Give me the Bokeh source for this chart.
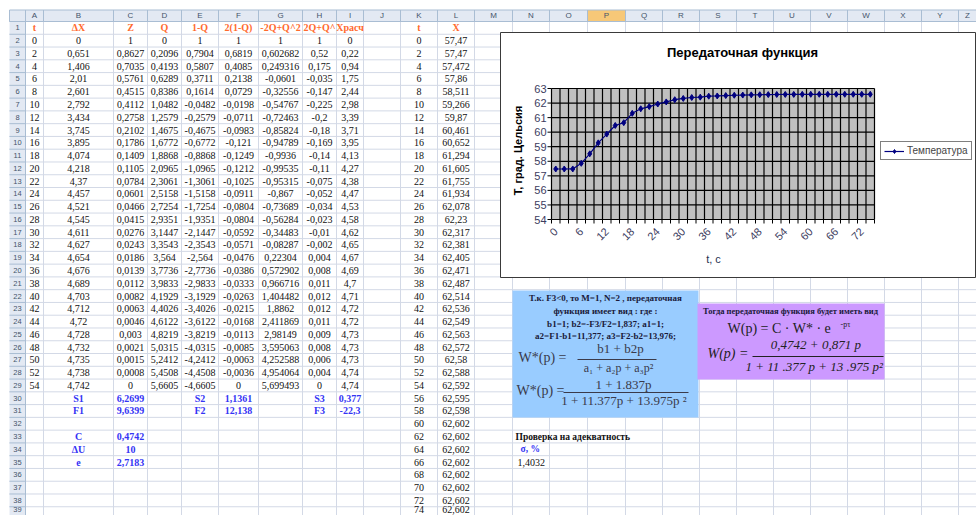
import math
from bokeh.plotting import figure
from bokeh.models import Range1d, Legend, LegendItem
from bokeh.core.properties import value
from bokeh.embed import file_html
from bokeh.resources import INLINE

# ---------------- data ----------------
t_sec = [0, 2, 4, 6, 8, 10, 12, 14, 16, 18, 20, 22, 24, 26, 28, 30, 32, 34, 36,
         38, 40, 42, 44, 46, 48, 50, 52, 54, 56, 58, 60, 62, 64, 66, 68, 70, 72, 74]
temperature = [57.47, 57.47, 57.472, 57.86, 58.511, 59.266, 59.87, 60.461, 60.652, 61.294,
               61.605, 61.755, 61.934, 62.078, 62.23, 62.317, 62.381, 62.405, 62.471, 62.487,
               62.514, 62.536, 62.549, 62.563, 62.572, 62.58, 62.588, 62.592, 62.595, 62.598,
               62.602, 62.602, 62.602, 62.602, 62.602, 62.602, 62.602, 62.602]
y_ticks = [54, 55, 56, 57, 58, 59, 60, 61, 62, 63]

delta_x = [0, 0.651, 1.406, 2.01, 2.601, 2.792, 3.434, 3.745, 3.895, 4.074, 4.218, 4.37, 4.457, 4.521,
           4.545, 4.611, 4.627, 4.654, 4.676, 4.689, 4.703, 4.712, 4.72, 4.728, 4.732, 4.735, 4.738, 4.742]
z_col = [1, 0.8627, 0.7035, 0.5761, 0.4515, 0.4112, 0.2758, 0.2102, 0.1786, 0.1409, 0.1105, 0.0784,
         0.0601, 0.0466, 0.0415, 0.0276, 0.0243, 0.0186, 0.0139, 0.0112, 0.0082, 0.0063, 0.0046,
         0.003, 0.0021, 0.0015, 0.0008, 0]
q_col = [0, 0.2096, 0.4193, 0.6289, 0.8386, 1.0482, 1.2579, 1.4675, 1.6772, 1.8868, 2.0965, 2.3061,
         2.5158, 2.7254, 2.9351, 3.1447, 3.3543, 3.564, 3.7736, 3.9833, 4.1929, 4.4026, 4.6122,
         4.8219, 5.0315, 5.2412, 5.4508, 5.6605]
one_minus_q = [1, 0.7904, 0.5807, 0.3711, 0.1614, -0.0482, -0.2579, -0.4675, -0.6772, -0.8868,
               -1.0965, -1.3061, -1.5158, -1.7254, -1.9351, -2.1447, -2.3543, -2.564, -2.7736,
               -2.9833, -3.1929, -3.4026, -3.6122, -3.8219, -4.0315, -4.2412, -4.4508, -4.6605]
f_col = [1, 0.6819, 0.4085, 0.2138, 0.0729, -0.0198, -0.0711, -0.0983, -0.121, -0.1249, -0.1212,
         -0.1025, -0.0911, -0.0804, -0.0804, -0.0592, -0.0571, -0.0476, -0.0386, -0.0333, -0.0263,
         -0.0215, -0.0168, -0.0113, -0.0085, -0.0063, -0.0036, 0]
g_col = [1, 0.602682, 0.249316, -0.0601, -0.32556, -0.54767, -0.72463, -0.85824, -0.94789, -0.9936,
         -0.99535, -0.95315, -0.867, -0.73689, -0.56284, -0.34483, -0.08287, 0.22304, 0.572902,
         0.966716, 1.404482, 1.8862, 2.411869, 2.98149, 3.595063, 4.252588, 4.954064, 5.699493]
h_col = [1, 0.52, 0.175, -0.035, -0.147, -0.225, -0.2, -0.18, -0.169, -0.14, -0.11, -0.075, -0.052,
         -0.034, -0.023, -0.01, -0.002, 0.004, 0.008, 0.011, 0.012, 0.012, 0.011, 0.009, 0.008,
         0.006, 0.004, 0]
x_calc = [0, 0.22, 0.94, 1.75, 2.44, 2.98, 3.39, 3.71, 3.95, 4.13, 4.27, 4.38, 4.47, 4.53, 4.58,
          4.62, 4.65, 4.67, 4.69, 4.7, 4.71, 4.72, 4.72, 4.73, 4.73, 4.73, 4.74, 4.74]
sheet_headers = ["t", "ΔX", "Z", "Q", "1-Q", "2(1-Q)", "-2Q+Q^2", "2Q+Q^", "Xрасч"]
col_letters = ["A", "B", "C", "D", "E", "F", "G", "H", "I", "J", "K", "L", "M",
               "N", "O", "P", "Q", "R", "S", "T", "U", "V", "W", "X", "Y", "Z"]
sums_labels_30 = ["S1", "S2", "S3"]
sums_values_30 = ["6,2699", "1,1361", "0,377"]
sums_labels_31 = ["F1", "F2", "F3"]
sums_values_31 = ["9,6399", "12,138", "-22,3"]
const_labels = ["C", "ΔU", "e"]
const_values = ["0,4742", "10", "2,7183"]


def fmt(v):
    s = repr(float(v))
    if s.endswith(".0"):
        s = s[:-2]
    return s.replace(".", ",")


# ---------------- canvas ----------------
W, H = 976, 515
X0, Y0 = 0, 0
BOTTOM = Y0 + H
RIGHT = X0 + W
p = figure(width=W, height=H, x_range=Range1d(X0, RIGHT), y_range=Range1d(BOTTOM, Y0),
           x_axis_location=None, y_axis_location=None, toolbar_location=None,
           output_backend="svg", min_border=0, outline_line_color=None)
p.grid.visible = False
p.background_fill_color = "white"
p.border_fill_color = "white"

SERIF = value("Liberation Serif")
SANS = value("Liberation Sans")

col_edges = [9, 25, 43, 113, 147, 181, 218, 258, 302, 336, 363, 400, 437, 474, 512, 549,
             587, 625, 662, 699, 736, 773, 810, 847, 884, 921, 958, 995]
HDR_TOP, ROW_TOP, ROW_H = 9.5, 21.0, 12.77
N_ROWS = 40
row_edges = [ROW_TOP + ROW_H * k for k in range(N_ROWS + 1)]


def rc(r):
    y = ROW_TOP + ROW_H * (r - 0.5)
    return min(y, BOTTOM - 6)


def cc(c):
    return (min(col_edges[c], RIGHT) + min(col_edges[c + 1], RIGHT)) / 2


GRID = "#d3d9e6"
HDR_FILL = "#e3e9f3"
HDR_LINE = "#a9bdd3"

# cell grid
p.segment(x0=col_edges[1:], x1=col_edges[1:], y0=ROW_TOP, y1=BOTTOM, line_color=GRID, line_width=1)
p.segment(x0=col_edges[0], x1=col_edges[-1], y0=row_edges, y1=row_edges, line_color=GRID, line_width=1)

# header row & row-number column
p.quad(left=col_edges[0], right=col_edges[-1], top=HDR_TOP, bottom=ROW_TOP, fill_color=HDR_FILL, line_color=None)
p.quad(left=col_edges[16], right=col_edges[17], top=HDR_TOP, bottom=ROW_TOP,
       fill_color="#f7c878", line_color=None)
p.quad(left=col_edges[0], right=col_edges[1], top=ROW_TOP, bottom=BOTTOM, fill_color=HDR_FILL, line_color=None)
p.segment(x0=col_edges, x1=col_edges, y0=HDR_TOP, y1=ROW_TOP, line_color=HDR_LINE)
p.segment(x0=col_edges[0], x1=col_edges[1], y0=row_edges, y1=row_edges, line_color=HDR_LINE)
p.segment(x0=[col_edges[0]], x1=[col_edges[-1]], y0=[ROW_TOP], y1=[ROW_TOP], line_color=HDR_LINE)
p.segment(x0=[col_edges[0]], x1=[col_edges[-1]], y0=[HDR_TOP], y1=[HDR_TOP], line_color=HDR_LINE)
p.segment(x0=[col_edges[1]], x1=[col_edges[1]], y0=[HDR_TOP], y1=[BOTTOM], line_color=HDR_LINE)

p.text(x=[cc(i + 1) for i in range(len(col_letters))], y=(HDR_TOP + ROW_TOP) / 2, text=col_letters,
       text_font=SANS, text_font_size="8px", text_color="#44546a", text_align="center", text_baseline="middle")
p.text(x=(col_edges[0] + col_edges[1]) / 2, y=[rc(r) for r in range(1, N_ROWS)],
       text=[str(r) for r in range(1, N_ROWS)], text_font=SANS, text_font_size="7.5px",
       text_color="#44546a", text_align="center", text_baseline="middle")

# header cells (row 1)
p.text(x=[cc(i + 1) for i in range(len(sheet_headers))] + [cc(11), cc(12)], y=rc(1),
       text=sheet_headers + ["t", "X"], text_font=SERIF, text_font_size="10px", text_font_style="bold",
       text_color="#ff6a2e", text_align="center", text_baseline="middle")

# data cells
cx_list, cy_list, ct_list = [], [], []
sheet_cols = [t_sec[:len(delta_x)], delta_x, z_col, q_col, one_minus_q, f_col, g_col, h_col, x_calc]
for ci, col in enumerate(sheet_cols):
    for ri, v in enumerate(col):
        cx_list.append(cc(ci + 1))
        cy_list.append(rc(ri + 2))
        ct_list.append(fmt(v))
for ri, (tv, xv) in enumerate(zip(t_sec, temperature)):
    cx_list += [cc(11), cc(12)]
    cy_list += [rc(ri + 2), rc(ri + 2)]
    ct_list += [fmt(tv), fmt(xv)]
p.text(x=cx_list, y=cy_list, text=ct_list, text_font=SERIF, text_font_size="10px",
       text_color="#111111", text_align="center", text_baseline="middle")

# blue summary cells
bx, by, bt = [], [], []
for k, (lab, val) in enumerate(zip(sums_labels_30, sums_values_30)):
    bx += [cc(2 + 3 * k), cc(3 + 3 * k)]
    by += [rc(30), rc(30)]
    bt += [lab, val]
for k, (lab, val) in enumerate(zip(sums_labels_31, sums_values_31)):
    bx += [cc(2 + 3 * k), cc(3 + 3 * k)]
    by += [rc(31), rc(31)]
    bt += [lab, val]
for k, (lab, val) in enumerate(zip(const_labels, const_values)):
    bx += [cc(2), cc(3)]
    by += [rc(33 + k), rc(33 + k)]
    bt += [lab, val]
p.text(x=bx, y=by, text=bt, text_font=SERIF, text_font_size="10px", text_font_style="bold",
       text_color="#3434f5", text_align="center", text_baseline="middle")

# ---------------- text boxes ----------------
p.quad(left=512, right=698, top=290, bottom=417, fill_color="#99ccff", line_color=None)
p.quad(left=697, right=884, top=303, bottom=379, fill_color="#cc99ff", line_color=None)

box_lines = ["Т.к. F3<0, то M=1, N=2 , передаточная", "функция имеет вид : где :",
             "b1=1; b2=-F3/F2=1,837; a1=1;", "a2=F1-b1=11,377; a3=F2-b2=13,976;"]
p.text(x=605, y=[297, 310, 323, 335], text=box_lines, text_font=SERIF, text_font_size="9px",
       text_font_style="bold", text_color="#1a1a3a", text_align="center", text_baseline="middle")
FORM = "#3a3a4a"
p.text(x=[518, 620, 618], y=[357, 348, 367], text=["W*(p) =", "b1 + b2p", "a₁ + a₂p + a₃p²"],
       text_font=SERIF, text_font_size=["14px", "13px", "12px"], text_color=FORM,
       text_align=["left", "center", "center"], text_baseline="middle")
p.segment(x0=[577, 563], x1=[656, 688], y0=[359, 392], y1=[359, 392], line_color=FORM, line_width=1)
p.text(x=[516, 623, 625], y=[390, 384, 400], text=["W*(p) =", "1 + 1.837p", "1 + 11.377p  + 13.975p ²"],
       text_font=SERIF, text_font_size=["14px", "13px", "13px"], text_color=FORM,
       text_align=["left", "center", "center"], text_baseline="middle")

p.text(x=[790], y=[310], text=["Тогда передаточная функция будет иметь вид"], text_font=SERIF,
       text_font_size="8.5px", text_font_style="bold", text_color="#1a1a3a",
       text_align="center", text_baseline="middle")
p.text(x=[727, 840], y=[328, 324], text=["W(p) = C · W* · e", "-pτ"], text_font=SERIF,
       text_font_size=["14px", "8px"], text_color="#222222", text_align="left", text_baseline="middle")
p.text(x=[707, 817, 817], y=[353, 344, 366], text=["W(p) =", "0,4742  + 0,871 p", "1 + 11 .377  p + 13 .975  p²"],
       text_font=SERIF, text_font_size=["14px", "13px", "13px"], text_font_style="italic", text_color="#222222",
       text_align=["left", "center", "center"], text_baseline="middle")
p.segment(x0=[752], x1=[883], y0=[356], y1=[356], line_color="#222222", line_width=1)

p.text(x=[515], y=[rc(33)], text=["Проверка на адекватность"], text_font=SERIF, text_font_size="9.5px",
       text_font_style="bold", text_color="#111111", text_align="left", text_baseline="middle")
p.text(x=[520], y=[rc(34)], text=["σ, %"], text_font=SERIF, text_font_size="9.5px",
       text_font_style="bold", text_color="#3434f5", text_align="left", text_baseline="middle")
p.text(x=[517], y=[rc(35)], text=["1,4032"], text_font=SERIF, text_font_size="10px",
       text_color="#111111", text_align="left", text_baseline="middle")

# ---------------- embedded chart ----------------
p.quad(left=500, right=975, top=32, bottom=277, fill_color="white", line_color="#3a3a3a", line_width=1)

PA_L, PA_R, PA_T, PA_B = 551, 874, 88, 219
n_cat = len(t_sec)
y_lo, y_hi = y_ticks[0], y_ticks[-1]
sx = (PA_R - PA_L) / n_cat
sy = (PA_B - PA_T) / (y_hi - y_lo)
p.extra_x_ranges = {"cx": Range1d((X0 - PA_L) / sx, (RIGHT - PA_L) / sx)}
p.extra_y_ranges = {"cy": Range1d(y_lo - (BOTTOM - PA_B) / sy, y_hi + (PA_T - Y0) / sy)}
ck = dict(x_range_name="cx", y_range_name="cy")

bounds = list(range(n_cat + 1))
p.quad(left=0, right=n_cat, bottom=y_lo, top=y_hi, fill_color="#c0c0c0", line_color=None, **ck)
p.segment(x0=0, x1=n_cat, y0=y_ticks, y1=y_ticks, line_color="black", line_width=1.2, **ck)
p.segment(x0=bounds, x1=bounds, y0=y_lo, y1=y_hi, line_color="black", line_width=1.2, **ck)
p.segment(x0=-4 / sx, x1=0, y0=y_ticks, y1=y_ticks, line_color="black", line_width=1, **ck)
p.segment(x0=bounds, x1=bounds, y0=y_lo - 4 / sy, y1=y_lo, line_color="black", line_width=1, **ck)

xs = [i + 0.5 for i in range(n_cat)]
line_r = p.line(xs, temperature, line_color="#000080", line_width=1.2, **ck)
pts_r = p.scatter(xs, temperature, marker="diamond", size=6, fill_color="#000080",
                  line_color="#000080", **ck)

TICK_COL = "#3c3c5e"
p.text(x=0, y=y_ticks, text=[str(v) for v in y_ticks], x_offset=-5, text_font=SANS,
       text_font_size="11px", text_color=TICK_COL, text_align="right", text_baseline="middle", **ck)
lab_idx = list(range(0, n_cat, 3))
p.text(x=[xs[i] for i in lab_idx], y=y_lo, text=[str(t_sec[i]) for i in lab_idx], angle=math.pi / 4,
       x_offset=0, y_offset=10, text_font=SANS, text_font_size="11px", text_color=TICK_COL,
       text_align="right", text_baseline="middle", **ck)

p.text(x=[742], y=[52], text=["Передаточная функция"], text_font=SANS, text_font_size="13px",
       text_font_style="bold", text_color="black", text_align="center", text_baseline="middle")
p.text(x=[517], y=[150], text=["Т, град. Цельсия"], angle=math.pi / 2, text_font=SANS,
       text_font_size="11px", text_font_style="bold", text_color="black",
       text_align="center", text_baseline="middle")
p.text(x=[713], y=[258], text=["t, c"], text_font=SANS, text_font_size="11px",
       text_color="#1f3050", text_align="center", text_baseline="middle")

legend = Legend(items=[LegendItem(label="Температура", renderers=[line_r, pts_r])],
                location=(880 - X0, BOTTOM - 160), border_line_color="black", border_line_width=1,
                label_text_font="Liberation Sans", label_text_font_size="10px",
                glyph_width=20, glyph_height=10, label_height=10, padding=3, spacing=0,
                margin=0, label_standoff=3, background_fill_color="white", background_fill_alpha=1)
p.add_layout(legend)

open("out.html", "w").write(file_html(p, INLINE))
